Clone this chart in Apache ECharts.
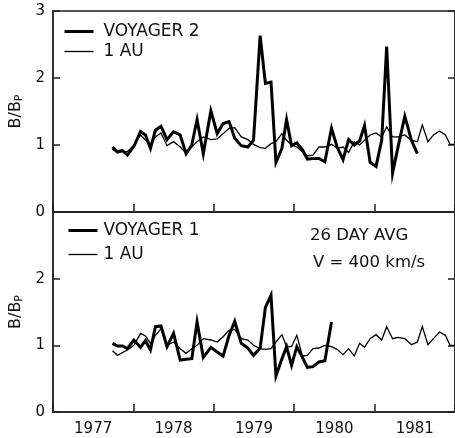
<!DOCTYPE html>
<html><head><meta charset="utf-8">
<script src="https://cdn.jsdelivr.net/npm/echarts@6/dist/echarts.min.js"></script>
<style>html,body{margin:0;padding:0;background:#fff}#c{width:455px;height:438px}</style>
</head><body><div id="c"></div>
<script>
// Year labels (centred in each year)
const yearLabels = ['1977', '1978', '1979', '1980', '1981'];

// 26-day averaging intervals (decimal year)
const times = [
  1977.715, 1977.777, 1977.839, 1977.901, 1977.983, 1978.066, 1978.128, 1978.190, 1978.252, 1978.322,
  1978.397, 1978.479, 1978.562, 1978.636, 1978.707, 1978.773, 1978.851, 1978.946, 1979.025, 1979.099,
  1979.174, 1979.244, 1979.326, 1979.409, 1979.479, 1979.562, 1979.628, 1979.698, 1979.760, 1979.835,
  1979.893, 1979.955, 1980.021, 1980.091, 1980.153, 1980.223, 1980.298, 1980.372, 1980.455, 1980.525,
  1980.599, 1980.669, 1980.740, 1980.806, 1980.868, 1980.938, 1981.012, 1981.083, 1981.145, 1981.219,
  1981.289, 1981.372, 1981.455, 1981.529, 1981.591, 1981.661, 1981.731, 1981.806, 1981.880, 1981.938,
  1981.992
];

// Top panel: Voyager 2 and 1 AU (B/Bp)
const voyager2 = [
  0.97, 0.90, 0.92, 0.85, 0.98, 1.20, 1.15, 0.95, 1.22, 1.28,
  1.08, 1.20, 1.15, 0.87, 1.00, 1.38, 0.87, 1.51, 1.17, 1.32,
  1.35, 1.10, 0.99, 0.97, 1.07, 2.63, 1.92, 1.94, 0.74, 0.95,
  1.38, 0.99, 1.03, 0.93, 0.79, 0.80, 0.80, 0.75, 1.25, 0.97,
  0.78, 1.08, 1.00, 1.06, 1.29, 0.74, 0.68, 1.07, 2.47, 0.58,
  0.98, 1.43, 1.07, 0.87
];
const au1Top = [
  0.94, 0.88, 0.90, 0.90, 1.00, 1.15, 1.07, 1.01, 1.12, 1.18,
  0.99, 1.05, 0.97, 0.88, 0.97, 1.05, 1.12, 1.08, 1.09, 1.17,
  1.25, 1.26, 1.12, 1.08, 1.01, 0.96, 0.95, 1.02, 1.05, 1.17,
  1.07, 1.00, 0.97, 0.90, 0.84, 0.85, 0.97, 0.97, 1.01, 0.95,
  0.97, 0.89, 1.05, 1.00, 1.07, 1.15, 1.18, 1.12, 1.27, 1.12,
  1.12, 1.15, 1.07, 1.05, 1.30, 1.05, 1.15, 1.21, 1.15, 1.01,
  1.01
];

// Bottom panel: Voyager 1 and 1 AU (B/Bp)
const voyager1 = [
  1.03, 0.99, 0.99, 0.95, 1.08, 0.97, 1.07, 0.93, 1.28, 1.29,
  0.98, 1.18, 0.78, 0.79, 0.80, 1.35, 0.82, 0.97, 0.90, 0.84,
  1.15, 1.36, 1.03, 0.96, 0.85, 0.96, 1.57, 1.75, 0.54, 0.80,
  0.98, 0.70, 0.98, 0.82, 0.67, 0.68, 0.75, 0.77, 1.35
];
const au1Bottom = [
  0.92, 0.85, 0.89, 0.93, 1.00, 1.18, 1.14, 1.03, 1.15, 1.25,
  1.00, 1.05, 0.95, 0.88, 0.95, 1.00, 1.10, 1.08, 1.05, 1.13,
  1.23, 1.24, 1.10, 1.08, 1.00, 0.95, 0.94, 0.95, 1.05, 1.16,
  0.98, 0.98, 1.15, 0.84, 0.85, 0.95, 0.96, 1.00, 0.98, 0.94,
  0.86, 0.95, 0.84, 1.03, 0.97, 1.10, 1.16, 1.08, 1.28, 1.10,
  1.12, 1.10, 1.01, 1.05, 1.28, 1.01, 1.10, 1.20, 1.15, 1.00,
  1.00
];

const pair = vals => vals.map((v, i) => [times[i], v]);

const FONT = 'DejaVu Sans';
const INK = '#111';
const AX = { color: '#222', width: 1.5 };
const THICK = 3;
const THIN = 1.3;

function yAxisLeft(grid, showMax) {
  return {
    type: 'value', gridIndex: grid, min: 0, max: 3, interval: 1, position: 'left',
    axisLine: { show: true, lineStyle: AX },
    axisTick: { show: true, inside: true, length: 7, lineStyle: AX },
    axisLabel: { fontSize: 15, fontFamily: FONT, color: INK, margin: 8, showMaxLabel: showMax },
    splitLine: { show: false },
    name: 'B/B{p|P}', nameLocation: 'middle', nameGap: 17, nameRotate: 90,
    nameTextStyle: {
      fontSize: 16, fontFamily: FONT, color: INK,
      rich: { p: { fontSize: 11, fontFamily: FONT, color: INK, verticalAlign: 'bottom', padding: [6, 0, 0, 0] } }
    }
  };
}
function yAxisRight(grid) {
  return {
    type: 'value', gridIndex: grid, min: 0, max: 3, interval: 1, position: 'right',
    axisLine: { show: true, lineStyle: AX },
    axisTick: { show: true, inside: true, length: 7, lineStyle: AX },
    axisLabel: { show: false }, splitLine: { show: false }
  };
}
function xData(grid) {
  return { type: 'value', gridIndex: grid, min: 1976.97, max: 1982, show: false, position: 'top' };
}
function xYears(grid, labels) {
  return {
    type: 'category', gridIndex: grid, data: yearLabels, position: 'bottom', boundaryGap: true,
    axisLine: { show: true, lineStyle: AX },
    axisTick: { show: true, inside: true, length: 8, alignWithLabel: false, lineStyle: AX },
    axisLabel: { show: labels, fontSize: 15, fontFamily: FONT, color: INK, margin: 10 },
    splitLine: { show: false }
  };
}
function lineSeries(name, vals, xi, yi, w) {
  return {
    type: 'line', name: name, data: pair(vals), xAxisIndex: xi, yAxisIndex: yi,
    symbol: 'none', showSymbol: false, animation: false,
    lineStyle: { color: '#000', width: w, join: 'miter' }, itemStyle: { color: '#000' },
    z: w > 2 ? 3 : 2
  };
}
function legend(left, top, gap, pad, names) {
  return {
    orient: 'vertical', left: left, top: top, itemGap: gap,
    itemWidth: 29, itemHeight: 16, selectedMode: false,
    itemStyle: { opacity: 0 },
    data: [
      { name: names[0], lineStyle: { width: THICK, color: '#000' } },
      { name: names[1], lineStyle: { width: THIN, color: '#000' } }
    ],
    textStyle: { fontSize: 17, fontFamily: FONT, color: INK, padding: [0, 0, 0, pad] }
  };
}

const chart = echarts.init(document.getElementById('c'), null, { renderer: 'canvas' });
chart.setOption({
  animation: false,
  backgroundColor: '#fff',
  grid: [
    { left: 50, right: -1, top: 11, height: 201, show: true, borderColor: '#222', borderWidth: 1.5 },
    { left: 50, right: -1, top: 212, height: 200, show: true, borderColor: '#222', borderWidth: 1.5 }
  ],
  xAxis: [xData(0), xYears(0, false), xData(1), xYears(1, true)],
  yAxis: [yAxisLeft(0, true), yAxisRight(0), yAxisLeft(1, false), yAxisRight(1)],
  legend: [
    legend(58, 18, 3, 5, ['VOYAGER 2', '1 AU']),
    legend(62, 217, 7, 1, ['VOYAGER 1', '1 AU'])
  ],
  graphic: [
    { type: 'text', style: { x: 310, y: 236, text: '26 DAY AVG', font: '16.5px "DejaVu Sans"', fill: INK, verticalAlign: 'middle' } },
    { type: 'text', style: { x: 313, y: 263, text: 'V = 400 km/s', font: '16.5px "DejaVu Sans"', fill: INK, verticalAlign: 'middle' } }
  ],
  series: [
    lineSeries('1 AU', au1Top, 0, 0, THIN),
    lineSeries('VOYAGER 2', voyager2, 0, 0, THICK),
    lineSeries('1 AU', au1Bottom, 2, 2, THIN),
    lineSeries('VOYAGER 1', voyager1, 2, 2, THICK)
  ]
});
</script>
</body></html>
